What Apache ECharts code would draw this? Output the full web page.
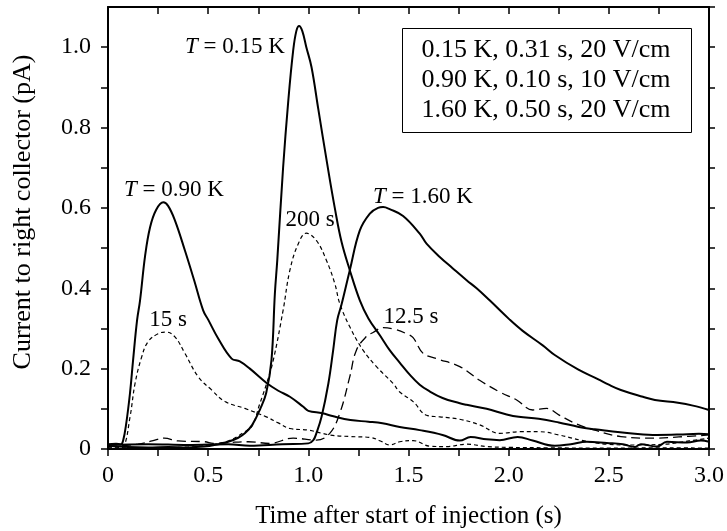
<!DOCTYPE html>
<html>
<head>
<meta charset="utf-8">
<script src="https://cdn.jsdelivr.net/npm/echarts@6/dist/echarts.min.js"></script>
<style>
html,body{margin:0;padding:0;background:#fff;}
#c{width:727px;height:531px;}
</style>
</head>
<body>
<div id="c"></div>
<script>
// Time (s), current (pA) pairs
const solid015K = [[0,0.008],[0.1,0.005],[0.2,0.004],[0.3,0.005],[0.4,0.004],[0.48,0.006],[0.55,0.012],[0.6,0.018],[0.65,0.028],[0.683,0.039],[0.72,0.06],[0.76,0.1],[0.79,0.14],[0.816,0.221],[0.833,0.387],[0.845,0.47],[0.874,0.70],[0.90,0.867],[0.924,0.99],[0.94,1.04],[0.954,1.053],[0.97,1.04],[0.99,1.0],[1.016,0.95],[1.05,0.845],[1.094,0.71],[1.132,0.6],[1.166,0.515],[1.207,0.445],[1.257,0.37],[1.3,0.325],[1.357,0.283],[1.406,0.246],[1.456,0.215],[1.506,0.185],[1.556,0.16],[1.6,0.145],[1.67,0.127],[1.756,0.114],[1.79,0.11],[1.89,0.1],[1.99,0.086],[2.05,0.08],[2.15,0.075],[2.25,0.066],[2.35,0.055],[2.43,0.049],[2.5,0.045],[2.63,0.038],[2.74,0.035],[2.85,0.036],[2.95,0.038],[3.0,0.037]];
const solid090K = [[0,0.012],[0.04,0.013],[0.065,0.012],[0.075,0.02],[0.09,0.06],[0.11,0.14],[0.125,0.22],[0.145,0.32],[0.16,0.37],[0.185,0.48],[0.21,0.552],[0.24,0.595],[0.276,0.614],[0.3,0.605],[0.334,0.569],[0.384,0.494],[0.43,0.42],[0.475,0.345],[0.5,0.322],[0.55,0.275],[0.617,0.225],[0.658,0.218],[0.708,0.2],[0.79,0.165],[0.85,0.145],[0.908,0.13],[0.975,0.105],[1.0,0.095],[1.07,0.089],[1.12,0.082],[1.21,0.072],[1.3,0.068],[1.37,0.064],[1.456,0.055],[1.556,0.047],[1.67,0.035],[1.756,0.021],[1.81,0.03],[1.89,0.024],[1.955,0.022],[2.045,0.03],[2.12,0.021],[2.23,0.008],[2.31,0.012],[2.39,0.018],[2.49,0.015],[2.57,0.012],[2.63,0.005],[2.66,0.012],[2.74,0.006],[2.79,0.018],[2.89,0.016],[2.96,0.021],[3.0,0.018]];
const solid160K = [[0,0.01],[0.2,0.012],[0.4,0.01],[0.6,0.012],[0.708,0.008],[0.87,0.012],[1.0,0.014],[1.025,0.022],[1.04,0.039],[1.066,0.08],[1.1,0.163],[1.124,0.246],[1.144,0.32],[1.166,0.36],[1.207,0.445],[1.257,0.544],[1.307,0.586],[1.348,0.6],[1.373,0.602],[1.406,0.597],[1.473,0.58],[1.556,0.536],[1.59,0.511],[1.656,0.478],[1.72,0.45],[1.79,0.42],[1.84,0.4],[1.905,0.37],[2.005,0.322],[2.07,0.294],[2.17,0.258],[2.23,0.234],[2.346,0.198],[2.445,0.174],[2.5,0.16],[2.56,0.147],[2.67,0.13],[2.73,0.122],[2.845,0.115],[2.92,0.108],[3.0,0.097]];
const dash200s = [[0,0.003],[0.2,0.003],[0.4,0.005],[0.5,0.01],[0.6,0.02],[0.683,0.043],[0.72,0.058],[0.758,0.113],[0.79,0.16],[0.825,0.221],[0.874,0.345],[0.908,0.445],[0.95,0.511],[0.99,0.537],[1.04,0.519],[1.09,0.47],[1.132,0.412],[1.157,0.362],[1.207,0.304],[1.273,0.246],[1.34,0.205],[1.423,0.163],[1.456,0.142],[1.523,0.118],[1.59,0.084],[1.656,0.08],[1.756,0.074],[1.855,0.06],[1.955,0.039],[2.055,0.043],[2.155,0.043],[2.25,0.035],[2.36,0.022],[2.49,0.012],[2.63,0.01],[2.78,0.012],[2.9,0.02],[3.0,0.027]];
const dash15s = [[0,0.002],[0.05,0.003],[0.077,0.006],[0.11,0.08],[0.135,0.163],[0.168,0.229],[0.2,0.267],[0.25,0.287],[0.29,0.291],[0.334,0.279],[0.384,0.238],[0.45,0.18],[0.517,0.147],[0.584,0.118],[0.683,0.101],[0.79,0.08],[0.85,0.065],[0.908,0.051],[1.0,0.047],[1.107,0.035],[1.207,0.031],[1.307,0.029],[1.36,0.02],[1.406,0.01],[1.456,0.018],[1.523,0.021],[1.606,0.007],[1.69,0.006],[1.79,0.012],[1.89,0.006],[2.0,0.004],[2.2,0.003],[2.5,0.002],[2.8,0.003],[3.0,0.002]];
const dash125s = [[0,0.006],[0.15,0.012],[0.22,0.02],[0.28,0.027],[0.35,0.02],[0.484,0.018],[0.525,0.014],[0.6,0.016],[0.7,0.018],[0.808,0.014],[0.924,0.027],[1.04,0.022],[1.107,0.039],[1.157,0.089],[1.207,0.18],[1.24,0.246],[1.29,0.28],[1.323,0.29],[1.373,0.302],[1.43,0.298],[1.49,0.287],[1.523,0.277],[1.573,0.238],[1.64,0.225],[1.756,0.205],[1.855,0.171],[1.955,0.142],[2.04,0.122],[2.12,0.097],[2.19,0.101],[2.25,0.085],[2.34,0.062],[2.43,0.047],[2.56,0.031],[2.73,0.027],[2.85,0.03],[3.0,0.035]];
const legendLines = ['0.15 K, 0.31 s, 20 V/cm','0.90 K, 0.10 s, 10 V/cm','1.60 K, 0.50 s, 20 V/cm'];
const xTitle = 'Time after start of injection (s)';
const yTitle = 'Current to right collector (pA)';

const FONT = "'Liberation Serif','Times New Roman',serif";
const chart = echarts.init(document.getElementById('c'));

function line(data, dashed, dashArr, w) {
  return {type:'line', data:data, showSymbol:false, smooth:0.4,
    lineStyle:{color:'#000', width:w, type: dashed ? dashArr : 'solid'}, z: dashed?3:4, silent:true, animation:false};
}
const xLabelFmt = v => { const r = Math.round(v*4); if (r % 2) return ''; return r===0 ? '0' : v.toFixed(1); };
const yLabelFmt = v => { const r = Math.round(v*10); if (r % 2 || r > 10) return ''; return r===0 ? '0' : (r/10).toFixed(1); };
const axisLineStyle = {lineStyle:{color:'#000', width:2}};
chart.setOption({
  animation:false,
  backgroundColor:'#fff',
  grid:{left:108, right:18, top:7, bottom:82, containLabel:false, outerBoundsMode:'none'},
  xAxis:[
    {type:'value', min:0, max:3, interval:0.25, position:'bottom',
     axisLine:{show:true, onZero:false, ...axisLineStyle},
     axisTick:{show:true, inside:false, length:7, lineStyle:{color:'#000', width:1.5}},
     axisLabel:{formatter:xLabelFmt, color:'#000', fontFamily:FONT, fontSize:24, margin:15},
     splitLine:{show:false},
     name:xTitle, nameLocation:'middle', nameGap:55, nameTextStyle:{color:'#000', fontFamily:FONT, fontSize:25}},
    {type:'value', min:0, max:3, interval:0.25, position:'top',
     axisLine:{show:true, onZero:false, ...axisLineStyle},
     axisTick:{show:true, inside:true, length:7, lineStyle:{color:'#000', width:1.5}},
     axisLabel:{show:false}, splitLine:{show:false}}
  ],
  yAxis:[
    {type:'value', min:0, max:1.1, interval:0.1, position:'left',
     axisLine:{show:true, onZero:false, ...axisLineStyle},
     axisTick:{show:true, inside:false, length:7, lineStyle:{color:'#000', width:1.5}},
     axisLabel:{formatter:yLabelFmt, color:'#000', fontFamily:FONT, fontSize:24, margin:17, showMaxLabel:false},
     splitLine:{show:false}},
    {type:'value', min:0, max:1.1, interval:0.1, position:'right',
     axisLine:{show:true, onZero:false, ...axisLineStyle},
     axisTick:{show:true, inside:false, length:6, lineStyle:{color:'#000', width:1.5}},
     axisLabel:{show:false}, splitLine:{show:false}}
  ],
  series:[
    line(dash15s, true, [4,3], 1.2),
    line(dash200s, true, [4,3], 1.2),
    line(dash125s, true, [9,5], 1.3),
    line(solid090K, false, null, 2),
    line(solid015K, false, null, 2),
    line(solid160K, false, null, 2)
  ],
  graphic:[
    {type:'text', x:23, y:212, rotation:Math.PI/2, style:{text:yTitle, font:"26px "+FONT, fill:'#000', textAlign:'center', textVerticalAlign:'middle'}},
    {type:'rect', shape:{x:402.5, y:28.5, width:289, height:104}, style:{fill:'#fff', stroke:'#000', lineWidth:1}, z:10},
    {type:'text', x:546, y:50, style:{text:legendLines[0], font:"26px "+FONT, fill:'#000', textAlign:'center', textVerticalAlign:'middle'}, z:11},
    {type:'text', x:546, y:80, style:{text:legendLines[1], font:"26px "+FONT, fill:'#000', textAlign:'center', textVerticalAlign:'middle'}, z:11},
    {type:'text', x:546, y:110, style:{text:legendLines[2], font:"26px "+FONT, fill:'#000', textAlign:'center', textVerticalAlign:'middle'}, z:11},
    {type:'text', x:235, y:47, style:{text:'{i|T} = 0.15 K', rich:{i:{fontStyle:'italic', fontFamily:FONT, fontSize:23}}, font:"23px "+FONT, fill:'#000', textAlign:'center', textVerticalAlign:'middle'}, z:11},
    {type:'text', x:174, y:190, style:{text:'{i|T} = 0.90 K', rich:{i:{fontStyle:'italic', fontFamily:FONT, fontSize:23}}, font:"23px "+FONT, fill:'#000', textAlign:'center', textVerticalAlign:'middle'}, z:11},
    {type:'text', x:423, y:197, style:{text:'{i|T} = 1.60 K', rich:{i:{fontStyle:'italic', fontFamily:FONT, fontSize:23}}, font:"23px "+FONT, fill:'#000', textAlign:'center', textVerticalAlign:'middle'}, z:11},
    {type:'text', x:310, y:220, style:{text:'200 s', font:"23px "+FONT, fill:'#000', textAlign:'center', textVerticalAlign:'middle'}, z:11},
    {type:'text', x:168, y:320, style:{text:'15 s', font:"23px "+FONT, fill:'#000', textAlign:'center', textVerticalAlign:'middle'}, z:11},
    {type:'text', x:411, y:317, style:{text:'12.5 s', font:"23px "+FONT, fill:'#000', textAlign:'center', textVerticalAlign:'middle'}, z:11}
  ]
});
</script>
</body>
</html>
